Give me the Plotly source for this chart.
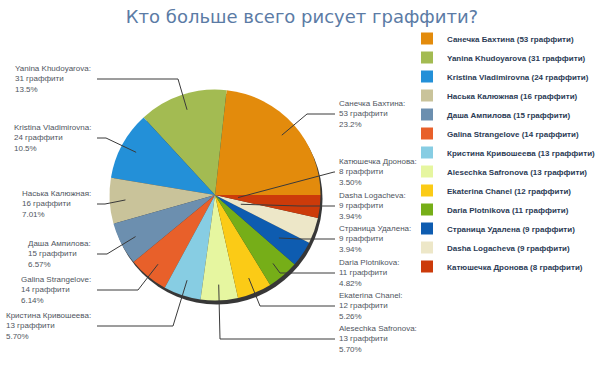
import math
import plotly.graph_objects as go

# ---- data ----
names = ["Санечка Бахтина", "Yanina Khudoyarova", "Kristina Vladimirovna",
         "Наська Калюжная", "Даша Ампилова", "Galina Strangelove",
         "Кристина Кривошеева", "Alesechka Safronova", "Ekaterina Chanel",
         "Daria Plotnikova", "Страница Удалена", "Dasha Logacheva",
         "Катюшечка Дронова"]
values = [53, 31, 24, 16, 15, 14, 13, 13, 12, 11, 9, 9, 8]
unit = "граффити"
title = "Кто больше всего рисует граффити?"

# ---- style ----
colors = ["#E38B0C", "#A3BB52", "#2390D8", "#C9C39A", "#6C8FAF", "#E8602A",
          "#87CDE3", "#E6F6A0", "#FBCB16", "#76AE18", "#0E5CB0", "#EDE7C8",
          "#CC3B0A"]
W, H = 604, 378
CX, CY, R = 215, 195, 105.5  # pie centre / radius in px (layout)
LABEL_FONT = dict(family="Liberation Sans, Arial", size=8, color="#4f5560")

# label layout: side, middle-line y (px), elbow x (px), leader depth (fraction of R)
label_side = ["R", "L", "L", "L", "L", "L", "L", "R", "R", "R", "R", "R", "R"]
label_y = [114, 79, 138, 204, 254, 290, 326, 339, 306, 273, 239, 206, 172]
elbow_x = [307, 178, 106, 105, 107, 138, 173, 220, 260, 280, 300, 300, 334]
depth = [0.85, 0.85, 0.85, 0.85, 0.85, 0.85, 0.85, 0.85, 0.85, 0.85, 0.73, 0.26, 0.22]
LEFT_TEXT_RIGHT = 93
LEFT_LINE_START = 97
RIGHT_TEXT_LEFT = 337
RIGHT_LINE_START = 335


def px(x):
    return x / W


def py(y):
    return 1 - y / H


def pct_text(p):
    """percentage truncated to 3 significant digits, as in the original"""
    digits = max(0, 2 - int(math.floor(math.log10(p))))
    f = 10 ** digits
    return f"{math.floor(p * f + 1e-9) / f:.{digits}f}%"


total = sum(values)
legend_labels = [f"{n} ({v} {unit})" for n, v in zip(names, values)]
# first slice starts at 3 o'clock and the pie runs counterclockwise
rotation = 90 - values[0] / total * 360

fig = go.Figure()
fig.add_trace(go.Pie(
    labels=legend_labels,
    values=values,
    sort=False,
    direction="counterclockwise",
    rotation=rotation,
    marker=dict(colors=colors, line=dict(width=0)),
    textinfo="none",
    hoverinfo="label+percent",
    domain=dict(x=[px(CX - R), px(CX + R)], y=[py(CY + R), py(CY - R)]),
))

shapes = []
# drop shadow behind the pie
shapes.append(dict(type="circle", xref="paper", yref="paper", layer="below",
                   x0=px(CX - R + 2), x1=px(CX + R + 2),
                   y0=py(CY + R + 4), y1=py(CY - R + 4),
                   fillcolor="rgba(20,20,20,0.85)", line=dict(width=0)))

annotations = []
cum = 0
for i, v in enumerate(values):
    ang = (cum + v / 2) / total * 2 * math.pi
    cum += v
    sx = CX + depth[i] * R * math.cos(ang)
    sy = CY - depth[i] * R * math.sin(ang)
    ly = label_y[i]
    text = f"{names[i]}:<br>{v} {unit}<br>{pct_text(v / total * 100)}"
    if label_side[i] == "L":
        x0 = LEFT_LINE_START
        annotations.append(dict(x=px(LEFT_TEXT_RIGHT), y=py(ly), xref="paper", yref="paper",
                                text=text, showarrow=False, xanchor="right", yanchor="middle",
                                align="left", font=LABEL_FONT))
    else:
        x0 = RIGHT_LINE_START
        annotations.append(dict(x=px(RIGHT_TEXT_LEFT), y=py(ly), xref="paper", yref="paper",
                                text=text, showarrow=False, xanchor="left", yanchor="middle",
                                align="left", font=LABEL_FONT))
    path = f"M {px(x0)},{py(ly)} L {px(elbow_x[i])},{py(ly)} L {px(sx)},{py(sy)}"
    shapes.append(dict(type="path", xref="paper", yref="paper", path=path,
                       line=dict(color="#3a3a3a", width=1), layer="above"))

fig.update_layout(
    width=W, height=H,
    margin=dict(l=0, r=0, t=0, b=0, autoexpand=False),
    paper_bgcolor="white",
    plot_bgcolor="white",
    title=dict(text=title, x=0.5, xanchor="center", y=py(17), yanchor="middle",
               font=dict(family="DejaVu Sans", size=18, color="#5B7BA5")),
    legend=dict(x=px(407), xanchor="left", y=py(24), yanchor="top",
                font=dict(family="Liberation Sans, Arial", size=8,
                          color="#2B3B55", weight="bold"),
                bgcolor="rgba(0,0,0,0)", traceorder="normal"),
    shapes=shapes,
    annotations=annotations,
)

# the page's default 8px body margin would shift the whole figure
fig.write_html("out.html", config={"displayModeBar": False},
               post_script="document.body.style.margin='0';")
